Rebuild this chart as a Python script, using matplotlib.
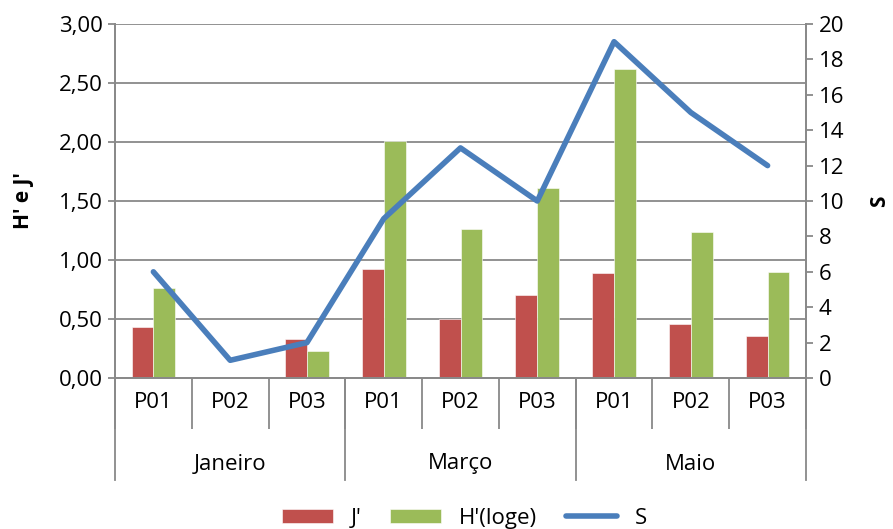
import matplotlib
matplotlib.use('Agg')
import matplotlib.pyplot as plt
import matplotlib.transforms as mtransforms
from matplotlib.ticker import FuncFormatter, MultipleLocator
import numpy as np

plt.rcParams['font.family'] = ['Open Sans', 'DejaVu Sans']

meses = ['Janeiro', 'Março', 'Maio']
pontos = ['P01', 'P02', 'P03']
j_vals = [0.43, 0.00, 0.33, 0.92, 0.50, 0.70, 0.89, 0.46, 0.36]
h_vals = [0.76, 0.00, 0.23, 2.01, 1.26, 1.61, 2.62, 1.24, 0.90]
s_vals = [6, 1, 2, 9, 13, 10, 19, 15, 12]

c_red = '#c0504d'
c_green = '#9bbb59'
c_blue = '#4a7ebb'
c_grid = '#898989'

fig = plt.figure(figsize=(8.93, 5.29), dpi=100)
ax = fig.add_axes([115/893, 1-378/529, (806-115)/893, (378-24)/529])
ax2 = ax.twinx()

x = np.arange(len(j_vals))
w = 0.285
b1 = ax.bar(x - w/2, j_vals, w, color=c_red, edgecolor='white', linewidth=0.4, label="J'")
b2 = ax.bar(x + w/2, h_vals, w, color=c_green, edgecolor='white', linewidth=0.4, label="H'(loge)")
l1, = ax2.plot(x, s_vals, color=c_blue, linewidth=4, solid_capstyle='round', label='S')

ax.set_xlim(-0.5, len(x) - 0.5)
ax.set_ylim(0, 3)
ax2.set_ylim(0, 20)
ax.yaxis.set_major_locator(MultipleLocator(0.5))
ax.yaxis.set_major_formatter(FuncFormatter(lambda v, p: f'{v:.2f}'.replace('.', ',')))
ax2.yaxis.set_major_locator(MultipleLocator(2))

ax.set_axisbelow(True)
ax.grid(axis='y', color=c_grid, linewidth=1.3)

for a in (ax, ax2):
    a.spines['top'].set_visible(False)
    for s in ('left', 'right', 'bottom'):
        a.spines[s].set_color(c_grid)
        a.spines[s].set_linewidth(1.3)
ax.tick_params(axis='y', colors=c_grid, labelcolor='black', labelsize=16, length=5, width=1.3, pad=4)
ax2.tick_params(axis='y', colors=c_grid, labelcolor='black', labelsize=16, length=5, width=1.3, pad=4)

# two-level category axis
ax.set_xticks(np.arange(-0.5, len(x), 1))
ax.set_xticklabels([])
ax.tick_params(axis='x', which='major', colors=c_grid, length=37, width=1.3)
ax.set_xticks(x, minor=True)
ax.set_xticklabels(pontos * 3, minor=True, fontsize=16)
ax.tick_params(axis='x', which='minor', length=0, pad=10)

trans = mtransforms.blended_transform_factory(ax.transData, ax.transAxes)
for xb in [-0.5, 2.5, 5.5, 8.5]:
    ax.plot([xb, xb], [0, -102/354], transform=trans, color=c_grid, linewidth=1.3, clip_on=False)
for i, m in enumerate(meses):
    ax.text(3*i + 1, -86/354, m, transform=trans, ha='center', va='center', fontsize=16)

ax.set_ylabel("H' e J'", fontsize=15, fontweight='bold', labelpad=18)
ax2.set_ylabel('S', fontsize=15, fontweight='bold', labelpad=18)

fig.legend([b1, b2, l1], ["J'", "H'(loge)", 'S'], loc='center', bbox_to_anchor=(0.52, 0.02),
           ncol=3, frameon=False, fontsize=16, handlelength=2.3, handleheight=0.6,
           columnspacing=1.3, handletextpad=0.8)

fig.savefig('out.png', dpi=100)
